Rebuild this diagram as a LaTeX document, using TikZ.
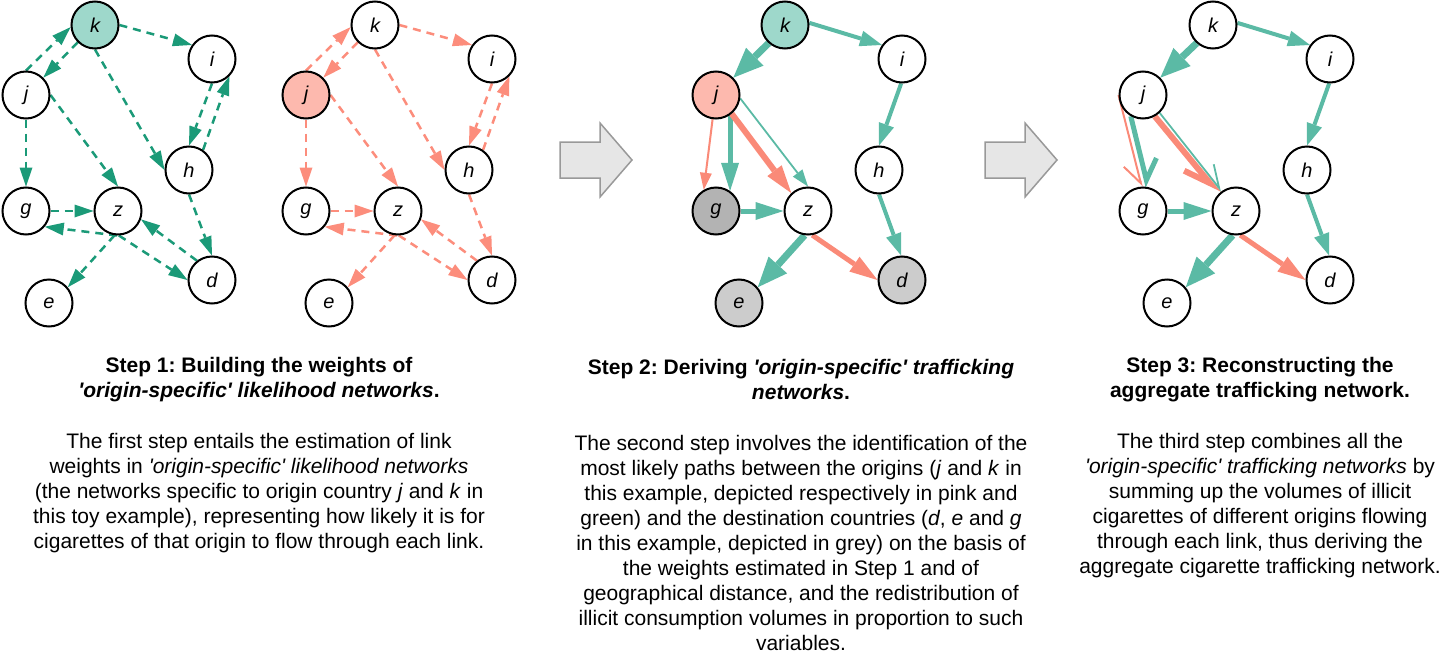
\documentclass[tikz,border=0pt]{standalone}
\usepackage{fontspec}
\setmainfont{Liberation Sans}
\usetikzlibrary{arrows.meta}
\pgfdeclarelayer{bg}
\pgfsetlayers{bg,main}
\definecolor{dgreen}{HTML}{1B9A78}
\definecolor{dpink}{HTML}{FC8D7C}
\definecolor{teal2}{HTML}{5BBAA5}
\definecolor{pink2}{HTML}{FA8A78}
\definecolor{kfill}{HTML}{9ED8CB}
\definecolor{jfill}{HTML}{FDB9AE}
\definecolor{gdark}{HTML}{B3B3B3}
\definecolor{glight}{HTML}{CCCCCC}
\definecolor{blockfill}{HTML}{E6E6E6}
\definecolor{blockline}{HTML}{999999}
\newcommand{\sq}{\textquotesingle}
\frenchspacing
\tikzset{
  gnode/.style={circle,draw=black,line width=2pt,fill=white,minimum size=47pt,inner sep=0pt,
    font=\fontsize{20}{24}\selectfont\itshape},
  dashg/.style={draw=dgreen,line width=2.5pt,dash pattern=on 8pt off 6pt,
    -{Triangle[length=19pt,width=13pt,line width=0pt]}},
  dashp/.style={draw=dpink,line width=2.5pt,dash pattern=on 8pt off 6pt,
    -{Triangle[length=19pt,width=13pt,line width=0pt]}},
  headS/.style={-{Triangle[length=17pt,width=12pt,line width=0pt]}},
  headM/.style={-{Triangle[length=22pt,width=16pt,line width=0pt]}},
  headL/.style={-{Triangle[length=28pt,width=18pt,line width=0pt]}},
  headXL/.style={-{Triangle[length=30pt,width=25pt,line width=0pt]}},
  tthin/.style={draw=teal2,line width=1.8pt,headS},
  pthin/.style={draw=pink2,line width=2pt,headS},
  tmed/.style={draw=teal2,line width=4pt,headM},
  tthick/.style={draw=teal2,line width=5pt,headL},
  pthick/.style={draw=pink2,line width=6pt,headL},
  pmed/.style={draw=pink2,line width=5pt,headL},
  tbig/.style={draw=teal2,line width=7pt,headXL},
  blockarrow/.style={fill=blockfill,draw=blockline,line width=1.5pt},
  titletext/.style={align=center,inner sep=0pt,font=\fontsize{21}{25}\selectfont\bfseries},
  bodytext/.style={align=center,inner sep=0pt,font=\fontsize{21}{25}\selectfont},
}
\begin{document}
\begin{tikzpicture}[x=1pt,y=-1pt]
\useasboundingbox (0,0) rectangle (1440,653);

% ---------- Graph A (green, dashed) ----------
\begin{scope}[xshift=0pt]
\node[gnode,fill=kfill] (a-k) at (95,25) {k};
\node[gnode] (a-i) at (212,59) {i};
\node[gnode] (a-j) at (26,95) {j};
\node[gnode] (a-h) at (189,170) {h};
\node[gnode] (a-g) at (26,211) {g};
\node[gnode] (a-z) at (118,211) {z};
\node[gnode] (a-d) at (212,280) {d};
\node[gnode] (a-e) at (49,303) {e};
\end{scope}
% ---------- Graph B (pink, dashed) ----------
\begin{scope}[xshift=280pt]
\node[gnode] (b-k) at (95,25) {k};
\node[gnode] (b-i) at (212,59) {i};
\node[gnode,fill=jfill] (b-j) at (26,95) {j};
\node[gnode] (b-h) at (189,170) {h};
\node[gnode] (b-g) at (26,211) {g};
\node[gnode] (b-z) at (118,211) {z};
\node[gnode] (b-d) at (212,280) {d};
\node[gnode] (b-e) at (49,303) {e};
\end{scope}
% ---------- Graph C (step 2) ----------
\begin{scope}[xshift=690pt]
\node[gnode,fill=kfill] (c-k) at (95,25) {k};
\node[gnode] (c-i) at (212,59) {i};
\node[gnode,fill=jfill] (c-j) at (26,95) {j};
\node[gnode] (c-h) at (189,170) {h};
\node[gnode,fill=gdark] (c-g) at (26,211) {g};
\node[gnode] (c-z) at (118,211) {z};
\node[gnode,fill=glight] (c-d) at (212,280) {d};
\node[gnode,fill=glight] (c-e) at (49,303) {e};
\end{scope}
% ---------- Graph D (step 3) ----------
\begin{scope}[xshift=1118pt]
\node[gnode] (d-k) at (95,25) {k};
\node[gnode] (d-i) at (212,59) {i};
\node[gnode] (d-j) at (25,95) {j};
\node[gnode] (d-h) at (189,170) {h};
\node[gnode] (d-g) at (25,211) {g};
\node[gnode] (d-z) at (118,211) {z};
\node[gnode] (d-d) at (212,280) {d};
\node[gnode] (d-e) at (49,303) {e};
\end{scope}

\begin{pgfonlayer}{bg}
% Graph A edges
\draw[dashg] (a-j.90) -- (a-k.185);
\draw[dashg] (a-k.225) -- (a-j.45);
\draw[dashg] (a-k.0) -- (a-i.145);
\draw[dashg] (a-k.270) -- (a-h.180);
\draw[dashg] (a-j.0) -- (a-z.90);
\draw[dashg] (a-j.270) -- (a-g.90);
\draw[dashg] (a-i.270) -- (a-h.90);
\draw[dashg] (a-h.55) -- (a-i.-45);
\draw[dashg] (a-h.270) -- (a-d.90);
\draw[dashg] (a-g.0) -- (a-z.180);
\draw[dashg] (a-z.268) -- (a-g.-40);
\draw[dashg] (a-z.272) -- (a-d.180);
\draw[dashg] (a-d.128) -- (a-z.-20);
\draw[dashg] (a-z.262) -- (a-e.40);
% Graph B edges
\draw[dashp] (b-j.90) -- (b-k.185);
\draw[dashp] (b-k.225) -- (b-j.45);
\draw[dashp] (b-k.0) -- (b-i.145);
\draw[dashp] (b-k.270) -- (b-h.180);
\draw[dashp] (b-j.0) -- (b-z.90);
\draw[dashp] (b-j.270) -- (b-g.90);
\draw[dashp] (b-i.270) -- (b-h.90);
\draw[dashp] (b-h.55) -- (b-i.-45);
\draw[dashp] (b-h.270) -- (b-d.90);
\draw[dashp] (b-g.0) -- (b-z.180);
\draw[dashp] (b-z.268) -- (b-g.-40);
\draw[dashp] (b-z.272) -- (b-d.180);
\draw[dashp] (b-d.128) -- (b-z.-20);
\draw[dashp] (b-z.262) -- (b-e.40);
% Graph C edges
\draw[tmed] (c-k.5) -- (c-i.145);
\draw[tbig] (c-k.228) -- (c-j.45);
\draw[tmed] (c-i.268) -- (c-h.90);
\draw[tmed] (c-h.270) -- (c-d.92);
\draw[pthin] (c-j.262) -- (c-g.120);
\draw[tthick] (c-j.-55) -- (c-g.55);
\draw[pthick] (c-j.-50) -- (c-z.133);
\draw[tthin] (c-j.-8) -- (c-z.90);
\draw[tthick] (c-g.0) -- (c-z.180);
\draw[tbig] (c-z.262) -- (c-e.40);
\draw[pmed] (c-z.280) -- (c-d.180);
% Graph D edges
\draw[tmed] (d-k.5) -- (d-i.145);
\draw[tbig] (d-k.228) -- (d-j.45);
\draw[tmed] (d-i.268) -- (d-h.90);
\draw[tmed] (d-h.270) -- (d-d.92);
\draw[tthick] (d-g.0) -- (d-z.180);
\draw[tbig] (d-z.262) -- (d-e.40);
\draw[pmed] (d-z.280) -- (d-d.180);
\draw[draw=pink2,line width=2pt,-{Straight Barb[harpoon,swap,length=20pt,width=25pt]}] (d-j.180) -- (d-g.93);
\draw[draw=teal2,line width=5pt,-{Straight Barb[harpoon,length=19pt,width=30pt]}] (d-j.240) -- (d-g.78);
\draw[draw=pink2,line width=6pt,-{Straight Barb[harpoon,swap,length=26pt,width=24pt]}] (d-j.-61) -- (d-z.135);
\draw[draw=teal2,line width=1.8pt,-{Straight Barb[harpoon,length=22pt,width=21pt]}] (d-j.-47) -- (d-z.126);
\end{pgfonlayer}

% block arrows
\draw[blockarrow] (560,142) -- (600,142) -- (600,123) -- (632,160) -- (600,197) -- (600,178) -- (560,178) -- cycle;
\draw[blockarrow] (985,142) -- (1025,142) -- (1025,123) -- (1057,160) -- (1025,197) -- (1025,178) -- (985,178) -- cycle;

% texts
\node[titletext] (t1) at (259,379.5) {Step 1: Building the weights of\\\textit{\sq origin-specific\sq\ likelihood networks}.};
\node[bodytext] (b1) at (259,493) {The first step entails the estimation of link\\
weights in \textit{\sq origin-specific\sq\ likelihood networks}\\
(the networks specific to origin country \textit{j} and \textit{k} in\\
this toy example), representing how likely it is for\\
cigarettes of that origin to flow through each link.};
\node[titletext] (t2) at (801,379.5) {Step 2: Deriving \textit{\sq origin-specific\sq\ trafficking}\\\textit{networks}.};
\node[bodytext] (b2) at (801,543) {The second step involves the identification of the\\
most likely paths between the origins (\textit{j} and \textit{k} in\\
this example, depicted respectively in pink and\\
green) and the destination countries (\textit{d}, \textit{e} and \textit{g}\\
in this example, depicted in grey) on the basis of\\
the weights estimated in Step 1 and of\\
geographical distance, and the redistribution of\\
illicit consumption volumes in proportion to such\\
variables.};
\node[titletext] (t3) at (1260,379.5) {Step 3: Reconstructing the\\aggregate trafficking network.};
\node[bodytext] (b3) at (1260,505.5) {The third step combines all the\\
\textit{\sq origin-specific\sq\ trafficking networks} by\\
summing up the volumes of illicit\\
cigarettes of different origins flowing\\
through each link, thus deriving the\\
aggregate cigarette trafficking network.};
\end{tikzpicture}
\end{document}
